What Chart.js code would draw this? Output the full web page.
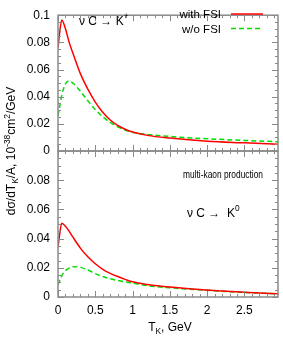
<!DOCTYPE html>
<html>
<head>
<meta charset="utf-8">
<script src="https://cdn.jsdelivr.net/npm/chart.js@4.4.1/dist/chart.umd.min.js"></script>
<style>
  html, body { margin: 0; padding: 0; background: #fff; }
  #wrap { position: relative; width: 283px; height: 337px; }
  #wrap canvas { position: absolute; left: 0; top: 0; }
</style>
</head>
<body>
<div id="wrap">
  <canvas id="kplus" width="283" height="337"></canvas>
  <canvas id="kzero" width="283" height="337"></canvas>
</div>
<script>
// kinetic energy grid, GeV
const T_K = [0, 0.02, 0.05, 0.1, 0.15, 0.2, 0.3, 0.4, 0.5, 0.6, 0.7, 0.8, 0.9, 1.0, 1.2, 1.5, 2.0, 2.5, 2.95];

// nu C -> K+
const KP_FSI   = [0.076, 0.086, 0.0965, 0.090, 0.080, 0.072, 0.057, 0.0455, 0.036, 0.0285, 0.0228, 0.0188, 0.016, 0.014, 0.0115, 0.0095, 0.0072, 0.006, 0.005];
const KP_NOFSI = [0.026, 0.032, 0.041, 0.0495, 0.0515, 0.050, 0.044, 0.037, 0.0305, 0.0252, 0.021, 0.0178, 0.0155, 0.0138, 0.0122, 0.0107, 0.009, 0.0078, 0.0068];

// nu C -> K0 (multi-kaon production)
const K0_FSI   = [0.034, 0.042, 0.0505, 0.0485, 0.045, 0.041, 0.0335, 0.0275, 0.0228, 0.019, 0.0162, 0.014, 0.0121, 0.0104, 0.0086, 0.0068, 0.0048, 0.0032, 0.0022];
const K0_NOFSI = [0.0085, 0.011, 0.0145, 0.018, 0.0198, 0.0208, 0.0203, 0.0185, 0.016, 0.014, 0.0125, 0.0113, 0.0103, 0.0095, 0.0078, 0.0063, 0.0046, 0.0031, 0.0021];

const X_MAX = 2.95, Y_MAX = 0.1;
const X_STEP = 0.5, X_MINOR = 0.1, Y_STEP = 0.02, Y_MINOR = 0.005;

const RED = '#ff0000', GREEN = '#00dd00', FRAME = '#8a8a8a';
const FONT = '"Liberation Sans", Arial, Helvetica, sans-serif';

const pts = (xs, ys) => xs.map((x, i) => ({ x, y: ys[i] }));
const fmt = v => String(+(+v).toFixed(2));

// text with sub/superscripts: parts = [[text, mode]], mode 1 = sup, -1 = sub
function rich(ctx, x, y, parts, size, align) {
  const small = size * 0.7;
  const f = m => (m ? small : size) + 'px ' + FONT;
  let w = 0;
  parts.forEach(([t, m]) => { ctx.font = f(m); w += ctx.measureText(t).width; });
  let cx = align === 'right' ? x - w : align === 'center' ? x - w / 2 : x;
  ctx.textAlign = 'left';
  ctx.textBaseline = 'alphabetic';
  parts.forEach(([t, m]) => {
    ctx.font = f(m);
    const dy = m > 0 ? -size * 0.42 : m < 0 ? size * 0.28 : 0;
    ctx.fillText(t, cx, y + dy);
    cx += ctx.measureText(t).width;
  });
}

// gnuplot style box with inward ticks on all sides
const frame = {
  id: 'frame',
  afterDatasetsDraw(chart) {
    const { ctx, chartArea: a, scales: { x, y } } = chart;
    ctx.save();
    ctx.strokeStyle = FRAME;
    ctx.lineWidth = 1;
    ctx.beginPath();
    for (let v = 0; v <= X_MAX + 1e-9; v += X_MINOR) {
      const px = Math.round(x.getPixelForValue(v)) + 0.5;
      const major = Math.abs(v / X_STEP - Math.round(v / X_STEP)) < 1e-6;
      const len = major ? 6 : 3;
      ctx.moveTo(px, a.bottom); ctx.lineTo(px, a.bottom - len);
      ctx.moveTo(px, a.top); ctx.lineTo(px, a.top + len);
    }
    for (let v = 0; v <= Y_MAX + 1e-9; v += Y_MINOR) {
      const py = Math.round(y.getPixelForValue(v)) + 0.5;
      const major = Math.abs(v / Y_STEP - Math.round(v / Y_STEP)) < 1e-6;
      const len = major ? 6 : 3;
      ctx.moveTo(a.left, py); ctx.lineTo(a.left + len, py);
      ctx.moveTo(a.right, py); ctx.lineTo(a.right - len, py);
    }
    ctx.stroke();
    ctx.lineWidth = 1.5;
    ctx.strokeRect(a.left, a.top, a.right - a.left, a.bottom - a.top);
    ctx.restore();
  }
};

const topText = {
  id: 'topText',
  afterDraw(chart) {
    const ctx = chart.ctx;
    ctx.save();
    ctx.fillStyle = '#000';
    rich(ctx, 221, 18, [['with FSI', 0]], 11.5, 'right');
    rich(ctx, 221, 32.5, [['w/o FSI', 0]], 11.5, 'right');
    ctx.lineWidth = 1.5;
    ctx.strokeStyle = RED;
    ctx.beginPath(); ctx.moveTo(231, 14); ctx.lineTo(263, 14); ctx.stroke();
    ctx.strokeStyle = GREEN;
    ctx.setLineDash([5, 3]);
    ctx.beginPath(); ctx.moveTo(231, 28.5); ctx.lineTo(263, 28.5); ctx.stroke();
    ctx.setLineDash([]);
    rich(ctx, 79, 24.5, [['\u03bd C \u2192 K', 0], ['+', 1]], 12, 'left');
    ctx.restore();
  }
};

const botText = {
  id: 'botText',
  afterDraw(chart) {
    const ctx = chart.ctx;
    ctx.save();
    ctx.fillStyle = '#000';
    // narrow label
    ctx.font = '11.5px ' + FONT;
    const label = 'multi-kaon production';
    const w = ctx.measureText(label).width;
    ctx.translate(183, 177.5);
    ctx.scale(80 / w, 1);
    ctx.textAlign = 'left';
    ctx.textBaseline = 'alphabetic';
    ctx.fillText(label, 0, 0);
    ctx.setTransform(1, 0, 0, 1, 0, 0);
    rich(ctx, 187, 216.5, [['\u03bd C \u2192  K', 0], ['0', 1]], 12, 'left');
    rich(ctx, 170, 331, [['T', 0], ['K', -1], [', GeV', 0]], 12, 'center');
    // y axis title, rotated
    ctx.translate(15, 151);
    ctx.rotate(-Math.PI / 2);
    rich(ctx, 0, 0, [['d\u03c3/dT', 0], ['K', -1], ['/A, 10', 0], ['-38', 1], ['cm', 0], ['2', 1], ['/GeV', 0]], 12, 'center');
    ctx.restore();
  }
};

function panel(id, red, green, padTop, padBottom, showX, hideTopLabel, extra) {
  return new Chart(document.getElementById(id), {
    type: 'line',
    data: {
      datasets: [
        { label: 'with FSI', data: pts(T_K, red), borderColor: RED, borderWidth: 1.5, pointRadius: 0, cubicInterpolationMode: 'monotone' },
        { label: 'w/o FSI', data: pts(T_K, green), borderColor: GREEN, borderWidth: 1.5, borderDash: [5, 3], pointRadius: 0, cubicInterpolationMode: 'monotone' }
      ]
    },
    options: {
      responsive: false, animation: false, events: [],
      layout: { padding: { left: 0, right: 5, top: padTop, bottom: padBottom } },
      plugins: { legend: { display: false }, tooltip: { enabled: false } },
      scales: {
        x: {
          type: 'linear', min: 0, max: X_MAX,
          afterFit: s => { s.height = showX ? 40 : 0; },
          grid: { display: false, drawTicks: false }, border: { display: false },
          ticks: {
            display: showX, stepSize: X_STEP, includeBounds: false, autoSkip: false,
            maxRotation: 0, padding: 6, color: '#000', font: { family: FONT, size: 12 },
            callback: v => fmt(v)
          }
        },
        y: {
          min: 0, max: Y_MAX,
          afterFit: s => { s.width = 58; },
          grid: { display: false, drawTicks: false }, border: { display: false },
          ticks: {
            stepSize: Y_STEP, autoSkip: false, padding: 8, color: '#000', font: { family: FONT, size: 12 },
            callback: v => (hideTopLabel && Math.abs(v - Y_MAX) < 1e-9) ? '' : fmt(v)
          }
        }
      }
    },
    plugins: [frame, extra]
  });
}

panel('kplus', KP_FSI, KP_NOFSI, 4, 186, false, false, topText);
panel('kzero', K0_FSI, K0_NOFSI, 151, 0, true, true, botText);
</script>
</body>
</html>
